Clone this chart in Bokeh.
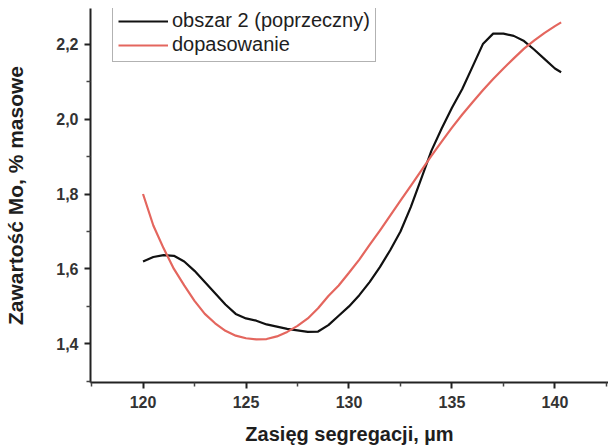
from bokeh.plotting import figure
from bokeh.models import (ColumnDataSource, FixedTicker, CustomJSTickFormatter,
                          Range1d, Legend, LegendItem)
from bokeh.embed import file_html
from bokeh.resources import INLINE

# --- data ---
meas_x = [120, 120.5, 121, 121.5, 122, 122.5, 123, 123.5, 124, 124.5, 125, 125.5,
          126, 127, 128, 128.5, 129, 129.5, 130, 130.5, 131, 131.5, 132, 132.5,
          133, 133.5, 134, 134.5, 135, 135.5, 136, 136.5, 137, 137.5, 138, 138.5,
          139, 139.5, 140, 140.3]
meas_y = [1.620, 1.632, 1.637, 1.635, 1.620, 1.595, 1.565, 1.535, 1.505, 1.480,
          1.468, 1.462, 1.452, 1.440, 1.432, 1.433, 1.450, 1.475, 1.500, 1.530,
          1.565, 1.605, 1.650, 1.700, 1.765, 1.840, 1.915, 1.975, 2.030, 2.080,
          2.140, 2.200, 2.228, 2.228, 2.222, 2.208, 2.185, 2.160, 2.135, 2.125]

fit_x = [120, 120.5, 121, 121.5, 122, 122.5, 123, 123.5, 124, 124.5, 125, 125.5,
         126, 126.5, 127, 127.5, 128, 128.5, 129, 129.5, 130, 130.5, 131, 131.5,
         132, 132.5, 133, 133.5, 134, 134.5, 135, 135.5, 136, 136.5, 137, 137.5,
         138, 138.5, 139, 139.5, 140, 140.3]
fit_y = [1.800, 1.716, 1.655, 1.600, 1.556, 1.515, 1.480, 1.455, 1.435, 1.422,
         1.415, 1.412, 1.413, 1.420, 1.432, 1.448, 1.468, 1.495, 1.528, 1.556,
         1.590, 1.625, 1.664, 1.702, 1.742, 1.782, 1.822, 1.862, 1.902, 1.940,
         1.977, 2.012, 2.045, 2.077, 2.107, 2.135, 2.162, 2.188, 2.210, 2.230,
         2.248, 2.258]

x_ticks = [120, 125, 130, 135, 140]
x_minor = [117.5, 122.5, 127.5, 132.5, 137.5, 142.5]
y_ticks = [1.4, 1.6, 1.8, 2.0, 2.2]
y_minor = [1.3, 1.5, 1.7, 1.9, 2.1, 2.3]

series_names = ["obszar 2 (poprzeczny)", "dopasowanie"]
x_title = "Zasięg segregacji, µm"
y_title = "Zawartość Mo, % masowe"

FONT = "Liberation Sans"
TXT = "#1e1e1e"

p = figure(width=608, height=448, output_backend="svg", toolbar_location=None,
           x_range=Range1d(117.45, 142.6), y_range=Range1d(1.297, 2.295),
           min_border_left=90, min_border_right=0, min_border_top=8,
           min_border_bottom=66)
p.outline_line_color = None
p.grid.grid_line_color = None
p.background_fill_color = "white"
p.border_fill_color = "white"

src_m = ColumnDataSource(dict(x=meas_x, y=meas_y))
src_f = ColumnDataSource(dict(x=fit_x, y=fit_y))
r_m = p.line("x", "y", source=src_m, line_color="#111111", line_width=2.2)
r_f = p.line("x", "y", source=src_f, line_color="#e4665e", line_width=2.2)

for ax, ticks, minor in ((p.xaxis[0], x_ticks, x_minor), (p.yaxis[0], y_ticks, y_minor)):
    ax.ticker = FixedTicker(ticks=ticks, minor_ticks=minor)
    ax.axis_line_width = 2
    ax.axis_line_color = "#222222"
    ax.major_tick_line_width = 2
    ax.major_tick_line_color = "#222222"
    ax.minor_tick_line_width = 1.5
    ax.minor_tick_line_color = "#444444"
    ax.major_tick_in = 0
    ax.major_tick_out = 6
    ax.minor_tick_in = 0
    ax.minor_tick_out = 4
    ax.major_label_text_font = FONT
    ax.major_label_text_font_size = "16px"
    ax.major_label_text_font_style = "bold"
    ax.major_label_text_color = "#333333"
    ax.axis_label_text_font = FONT
    ax.axis_label_text_font_style = "bold"
    ax.axis_label_text_color = TXT

p.xaxis[0].formatter = CustomJSTickFormatter(code="return tick.toFixed(0);")
p.yaxis[0].formatter = CustomJSTickFormatter(code="return tick.toFixed(1).replace('.', ',');")
p.xaxis[0].axis_label = x_title
p.yaxis[0].axis_label = y_title
p.xaxis[0].axis_label_text_font_size = "20px"
p.yaxis[0].axis_label_text_font_size = "21px"
p.xaxis[0].major_label_standoff = 7
p.xaxis[0].axis_label_standoff = 12
p.yaxis[0].major_label_standoff = 6
p.yaxis[0].axis_label_standoff = 26

legend = Legend(items=[LegendItem(label=series_names[0], renderers=[r_m]),
                       LegendItem(label=series_names[1], renderers=[r_f])],
                location=(22, 320))
legend.border_line_color = "#666666"
legend.border_line_width = 1
legend.background_fill_alpha = 0
legend.label_text_font = FONT
legend.label_text_font_size = "20px"
legend.label_text_color = TXT
legend.glyph_width = 50
legend.glyph_height = 20
legend.label_height = 20
legend.spacing = 1
legend.padding = 5
legend.margin = 0
legend.label_standoff = 4
p.add_layout(legend, "center")

open("out.html", "w").write(file_html(p, INLINE))
